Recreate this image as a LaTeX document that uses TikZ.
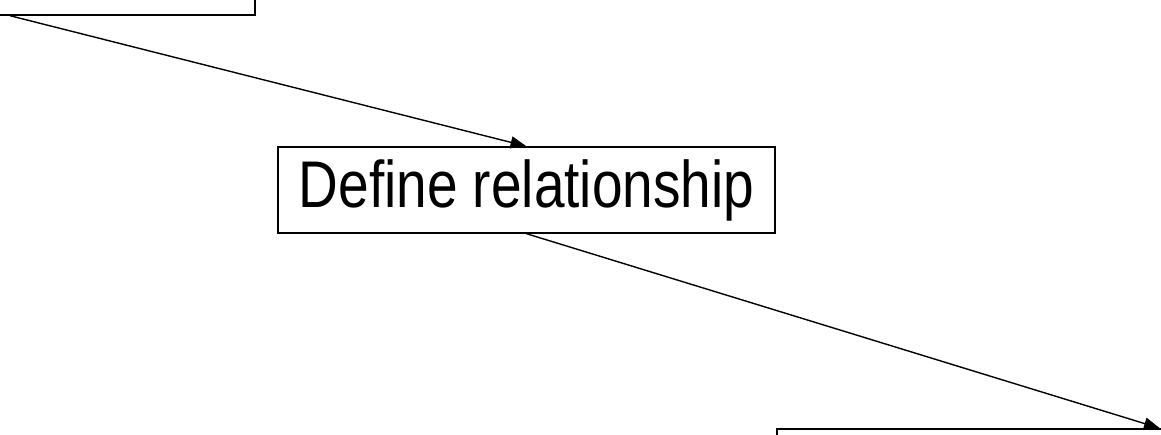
\documentclass[tikz,border=0pt]{standalone}
\usepackage{fontspec}
\setmainfont{Liberation Sans}
\usetikzlibrary{arrows.meta}
\begin{document}
\begin{tikzpicture}[x=1pt,y=1pt,
  stagebox/.style={draw=black,line width=1.4pt,rectangle,inner sep=0pt,fill=white},
  flow/.style={line width=1.4pt,-{Triangle[length=16pt,width=12pt]}}]
\useasboundingbox (0,0) rectangle (1161,-434);
\clip (0,0) rectangle (1161,-434);
% upper stage (mostly outside the frame)
\node[stagebox,minimum width=490,minimum height=90] (upper) at (10,-15+45) {};
% middle stage
\node[stagebox,minimum width=497,minimum height=86] (mid) at (526.5,-190)
  {\scalebox{1}[1.2]{\fontsize{55}{66}\selectfont Define relationship}};
% lower stage (mostly outside the frame)
\node[stagebox,minimum width=766,minimum height=90] (lower) at (1160,-429-45) {};
% connectors
\draw[flow] (upper.south) -- (mid.north);
\draw[flow] (mid.south) -- (lower.north);
\end{tikzpicture}
\end{document}
